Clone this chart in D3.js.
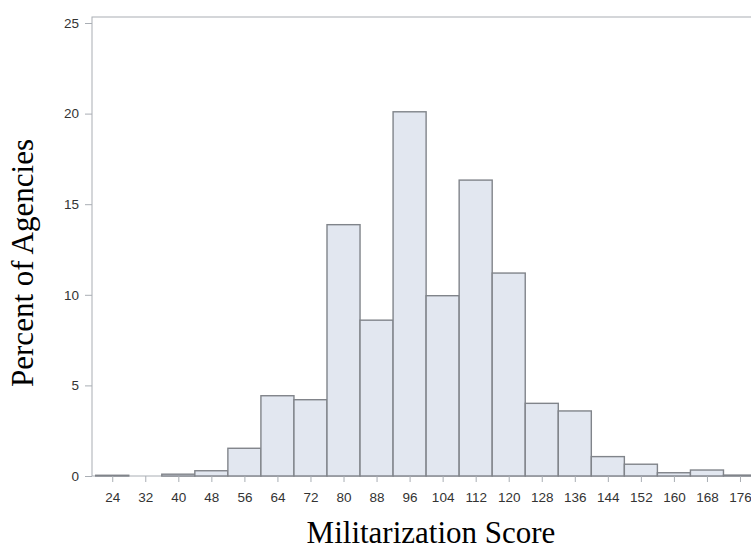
<!DOCTYPE html>
<html>
<head>
<meta charset="utf-8">
<script src="https://cdn.jsdelivr.net/npm/d3@7"></script>
<style>
  body { margin: 0; background: #fff; }
  svg { display: block; }
</style>
</head>
<body>
<div id="chart"></div>
<script>
// Bin midpoints (bin width 8) and percent of agencies per bin
const binMids = [24, 32, 40, 48, 56, 64, 72, 80, 88, 96, 104, 112, 120, 128, 136, 144, 152, 160, 168, 176];
const percents = [0.04, 0, 0.1, 0.29, 1.53, 4.43, 4.21, 13.87, 8.6, 20.1, 9.95, 16.33, 11.2, 4.01, 3.59, 1.07, 0.65, 0.18, 0.33, 0.05];
const yTicks = [0, 5, 10, 15, 20, 25];
const binWidth = 8;

const width = 751;
const height = 550;
const plotLeft = 92, plotTop = 17, plotBottom = 476;

const svg = d3.select("#chart")
    .append("svg")
        .attr("width", width)
        .attr("height", height);

// x scale: 4.13 px per unit, frame starts just left of the first bin
const x = d3.scaleLinear()
    .domain([19.1, 185])
    .range([plotLeft, plotLeft + (185 - 19.1) * 4.13]);
const y = d3.scaleLinear()
    .domain([0, 25])
    .range([plotBottom, plotBottom - 25 * 18.12]);

const frameRight = x(185);

// frame
svg.append("rect")
    .attr("x", plotLeft)
    .attr("y", plotTop)
    .attr("width", frameRight - plotLeft)
    .attr("height", plotBottom - plotTop)
    .attr("fill", "none")
    .attr("stroke", "#a9aeb4")
    .attr("stroke-width", 1);

// bars
svg.selectAll(".bar")
    .data(binMids)
    .enter()
    .append("rect")
        .attr("class", "bar")
        .attr("x", d => x(d - binWidth / 2))
        .attr("width", d => x(d + binWidth / 2) - x(d - binWidth / 2))
        .attr("y", (d, i) => y(percents[i]))
        .attr("height", (d, i) => y(0) - y(percents[i]))
        .attr("fill", "#e2e7f0")
        .attr("stroke", "#80848a")
        .attr("stroke-width", 1.4);

// y axis
const yAxis = svg.append("g")
    .attr("transform", `translate(${plotLeft},0)`)
    .call(d3.axisLeft(y).tickValues(yTicks).tickSize(7).tickPadding(6));
yAxis.select(".domain").remove();
yAxis.selectAll("line").attr("stroke", "#a9aeb4");
yAxis.selectAll("text")
    .attr("fill", "#333")
    .style("font-family", "'Liberation Sans', Arial, sans-serif")
    .style("font-size", "13.5px");

// x axis
const xAxis = svg.append("g")
    .attr("transform", `translate(0,${plotBottom})`)
    .call(d3.axisBottom(x).tickValues(binMids).tickSize(6).tickPadding(10));
xAxis.select(".domain").remove();
xAxis.selectAll("line").attr("stroke", "#a9aeb4");
xAxis.selectAll("text")
    .attr("fill", "#333")
    .style("font-family", "'Liberation Sans', Arial, sans-serif")
    .style("font-size", "13.5px");

// axis titles
svg.append("text")
    .attr("transform", "translate(33,263) rotate(-90)")
    .attr("text-anchor", "middle")
    .style("font-family", "'Liberation Serif', 'Times New Roman', serif")
    .style("font-size", "31px")
    .attr("fill", "#000")
    .text("Percent of Agencies");

svg.append("text")
    .attr("x", 431)
    .attr("y", 543)
    .attr("text-anchor", "middle")
    .style("font-family", "'Liberation Serif', 'Times New Roman', serif")
    .style("font-size", "31px")
    .attr("fill", "#000")
    .text("Militarization Score");
</script>
</body>
</html>
